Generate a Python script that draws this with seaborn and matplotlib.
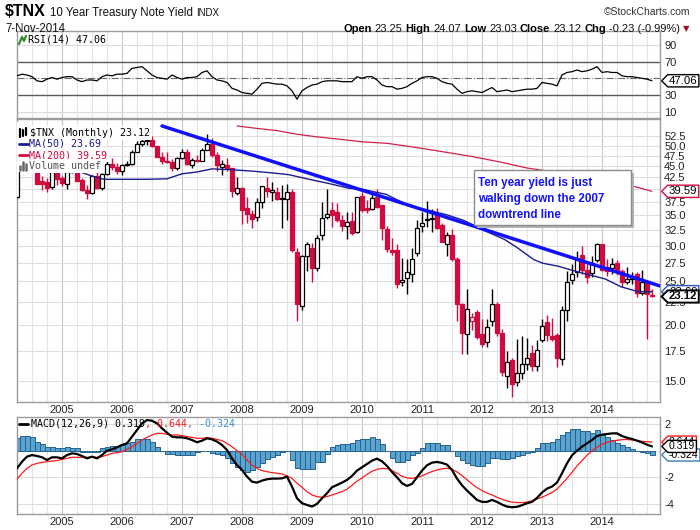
import numpy as np
import pandas as pd
import matplotlib
matplotlib.use("Agg")
import matplotlib.pyplot as plt
import seaborn as sns
from matplotlib.path import Path
from matplotlib.patches import Rectangle
from matplotlib.lines import Line2D
from matplotlib import ticker

# ---------------- data ----------------
start_month = "2004-04"
opens = [38.4, 45.1, 46.5, 45.8, 44.8, 41.8, 41.5, 40.5, 43.5, 42.4, 41.2, 43.6,
         44.8, 42.0, 39.9, 39.2, 42.8, 40.2, 43.3, 45.6, 44.9, 43.9, 45.3, 45.5,
         48.5, 50.5, 51.2, 51.4, 49.9, 47.3, 46.3, 46.1, 44.6, 47.0, 48.3, 45.4,
         46.5, 46.3, 48.9, 50.3, 47.6, 44.8, 45.4, 44.5, 39.3, 40.2, 36.4, 35.3,
         34.8, 37.4, 40.3, 39.4, 39.4, 38.1, 38.0, 39.4, 29.1, 22.0, 28.4, 29.6,
         26.8, 31.7, 34.8, 35.9, 35.6, 34.1, 33.1, 34.0, 32.2, 38.6, 36.4, 36.1,
         38.5, 36.9, 32.7, 29.4, 29.3, 24.9, 25.4, 26.0, 28.9, 33.2, 34.2, 34.3,
         35.1, 33.3, 30.2, 31.6, 28.0, 22.2, 19.1, 20.4, 21.4, 19.1, 18.3, 20.4,
         22.3, 19.2, 15.4, 16.7, 14.9, 15.6, 16.4, 17.3, 16.2, 18.5, 20.3, 18.9,
         19.0, 16.8, 21.6, 25.2, 26.2, 28.6, 26.5, 26.1, 27.8, 30.3, 26.9, 26.7,
         27.4, 26.4, 24.9, 25.3, 25.9, 23.5, 24.9, 23.25]
highs = [45.4, 48.7, 48.9, 46.2, 45.0, 42.9, 42.3, 43.9, 44.3, 42.9, 43.7, 46.4,
         45.6, 42.3, 40.8, 43.0, 44.1, 43.5, 46.4, 46.9, 45.7, 45.6, 46.2, 48.8,
         51.2, 52.0, 52.5, 52.4, 50.0, 48.3, 48.4, 46.6, 47.3, 49.2, 49.1, 46.9,
         47.6, 49.4, 53.2, 52.0, 48.4, 46.5, 47.0, 44.6, 42.7, 40.4, 38.5, 36.0,
         38.2, 40.7, 42.7, 41.6, 40.4, 40.8, 41.1, 40.0, 29.6, 28.6, 30.6, 30.4,
         31.6, 37.5, 40.0, 37.5, 37.2, 35.1, 35.6, 35.6, 38.5, 39.4, 37.9, 39.3,
         40.1, 37.0, 33.2, 31.2, 30.3, 28.1, 28.0, 29.6, 34.2, 35.6, 37.7, 36.1,
         36.3, 33.6, 32.2, 32.7, 28.3, 22.4, 24.0, 21.2, 21.6, 20.6, 20.6, 24.0,
         22.5, 19.6, 17.5, 16.9, 18.6, 18.9, 18.7, 18.0, 18.5, 20.6, 21.0, 20.7,
         19.2, 22.0, 26.3, 27.3, 29.2, 30.0, 27.4, 28.4, 30.4, 30.3, 28.0, 28.1,
         27.9, 26.6, 26.9, 26.2, 26.2, 26.5, 25.0, 24.07]
lows = [38.0, 45.0, 45.6, 43.7, 41.0, 39.9, 39.5, 40.1, 40.8, 40.6, 40.0, 43.4,
        41.7, 39.6, 38.0, 39.0, 40.0, 39.8, 43.0, 44.2, 43.3, 43.0, 45.0, 45.3,
        48.4, 49.9, 50.2, 49.6, 47.1, 45.5, 45.7, 44.0, 44.2, 46.8, 45.2, 44.6,
        46.0, 46.3, 48.8, 47.3, 44.0, 43.0, 44.0, 38.5, 38.9, 33.5, 33.7, 32.8,
        34.0, 36.3, 38.5, 37.6, 37.8, 32.9, 34.1, 29.0, 20.4, 21.6, 26.4, 24.9,
        26.4, 30.8, 34.3, 33.0, 33.9, 32.3, 31.0, 31.7, 32.0, 35.7, 35.5, 35.9,
        36.3, 30.8, 29.1, 28.6, 24.1, 24.4, 23.4, 24.9, 28.4, 32.2, 33.0, 32.1,
        32.6, 30.5, 28.4, 27.7, 20.4, 17.2, 17.2, 19.5, 18.6, 17.9, 17.9, 19.9,
        18.9, 15.4, 14.5, 13.8, 14.6, 15.2, 15.9, 15.8, 15.8, 18.3, 18.4, 18.4,
        16.1, 16.3, 20.4, 24.6, 25.5, 26.0, 24.8, 25.5, 27.6, 26.3, 25.7, 26.0,
        25.8, 24.3, 24.6, 24.7, 23.1, 23.3, 18.6, 23.03]
closes = [45.1, 46.5, 45.8, 44.8, 41.2, 41.1, 40.3, 43.6, 42.2, 41.3, 43.6, 44.8,
          41.8, 39.9, 39.2, 42.8, 40.2, 43.3, 45.6, 44.9, 43.9, 45.3, 45.5, 48.5,
          50.5, 51.2, 51.4, 49.9, 47.3, 46.3, 46.1, 44.6, 47.0, 48.3, 45.6, 46.5,
          46.3, 48.9, 50.3, 47.7, 45.4, 45.5, 44.5, 39.7, 40.3, 36.0, 35.2, 34.4,
          37.4, 40.6, 39.7, 39.8, 38.1, 38.3, 39.4, 29.3, 22.2, 28.5, 30.2, 26.8,
          31.2, 34.6, 35.3, 35.0, 34.1, 33.1, 33.9, 32.0, 38.4, 36.0, 35.9, 38.3,
          36.6, 32.9, 29.5, 29.1, 24.7, 25.1, 26.2, 28.0, 32.9, 33.7, 34.3, 34.6,
          32.9, 30.6, 31.6, 28.0, 22.2, 19.2, 21.7, 20.8, 18.8, 18.1, 19.8, 22.2,
          19.2, 15.7, 16.5, 14.8, 15.6, 16.4, 16.9, 16.2, 17.6, 19.9, 19.0, 18.6,
          16.9, 21.6, 24.9, 26.0, 27.8, 26.5, 25.5, 27.5, 30.3, 26.5, 26.4, 27.3,
          26.4, 24.9, 25.3, 25.6, 23.5, 24.9, 23.4, 23.12]
rsi14 = [53, 55, 54, 52, 47, 46, 49, 51, 49, 51, 52, 52,
         48, 46, 48, 48, 47, 52, 54, 53, 55, 55, 56, 62,
         63, 64, 59, 54, 51, 50, 49, 54, 51, 49, 51, 51,
         52, 57, 59, 52, 48, 47, 45, 38, 36, 33, 32, 31,
         37, 44, 45, 44, 43, 43, 41, 35, 25, 35, 39, 42,
         43, 46, 47, 47, 47, 46, 46, 46, 52, 50, 52, 52,
         48, 42, 40, 40, 37, 38, 40, 44, 47, 51, 52, 52,
         50, 46, 44, 43, 37, 32, 34, 35, 34, 33, 36, 39,
         34, 35, 36, 34, 35, 36, 37, 37, 38, 45, 44, 43,
         41, 54, 57, 58, 60, 58, 59, 61, 64, 57, 58, 57,
         57, 53, 52, 52, 51, 50, 49, 47.06]
macd_line = [-1.33, -0.83, -0.45, -0.33, -0.40, -0.50, -0.70, -0.50, -0.50, -0.58, -0.33, -0.20,
             -0.25, -0.40, -0.58, -0.45, -0.58, -0.33, 0.00, 0.10, 0.25, 0.43, 0.55, 1.05,
             1.55, 2.05, 2.30, 2.25, 2.05, 1.68, 1.35, 1.05, 1.00, 1.00, 0.93, 0.80,
             0.63, 0.75, 0.93, 0.85, 0.68, 0.43, 0.05, -0.58, -1.08, -1.45, -1.95, -2.33,
             -2.40, -2.25, -2.15, -2.10, -2.10, -2.08, -1.95, -2.70, -3.58, -3.95, -4.08, -4.20,
             -4.00, -3.58, -3.20, -2.75, -2.58, -2.40, -2.20, -1.90, -1.50, -1.25, -1.00, -0.75,
             -0.60, -0.80, -1.15, -1.60, -2.00, -2.45, -2.65, -2.50, -2.00, -1.50, -1.10, -0.90,
             -0.85, -0.92, -1.05, -1.45, -2.10, -2.60, -3.00, -3.35, -3.70, -3.85, -3.85, -3.70,
             -3.85, -4.05, -4.20, -4.25, -4.22, -4.10, -3.95, -3.85, -3.55, -3.15, -2.85, -2.70,
             -2.40, -1.70, -0.95, -0.35, 0.00, 0.30, 0.55, 0.80, 1.10, 1.20, 1.25, 1.30,
             1.30, 1.10, 0.97, 0.88, 0.75, 0.62, 0.45, 0.319]
macd_signal = [-2.15, -1.70, -1.33, -1.08, -0.95, -0.88, -0.83, -0.78, -0.75, -0.65, -0.58, -0.50,
               -0.50, -0.50, -0.50, -0.50, -0.50, -0.45, -0.33, -0.20, -0.15, -0.08, 0.10, 0.30,
               0.55, 0.80, 1.00, 1.18, 1.30, 1.30, 1.23, 1.18, 1.18, 1.13, 1.05, 1.00,
               0.93, 0.93, 0.98, 0.93, 0.85, 0.75, 0.55, 0.30, 0.00, -0.25, -0.70, -1.08,
               -1.33, -1.50, -1.58, -1.65, -1.70, -1.75, -1.90, -2.08, -2.45, -2.75, -3.08, -3.33,
               -3.45, -3.50, -3.45, -3.33, -3.20, -3.08, -2.90, -2.60, -2.30, -2.05, -1.78, -1.55,
               -1.40, -1.33, -1.36, -1.50, -1.70, -1.92, -2.05, -2.08, -2.00, -1.90, -1.72, -1.57,
               -1.45, -1.36, -1.33, -1.40, -1.60, -1.87, -2.18, -2.50, -2.78, -3.00, -3.18, -3.33,
               -3.50, -3.65, -3.78, -3.87, -3.90, -3.90, -3.86, -3.76, -3.63, -3.50, -3.33, -3.15,
               -2.88, -2.50, -2.08, -1.63, -1.15, -0.75, -0.35, 0.00, 0.25, 0.48, 0.63, 0.72,
               0.78, 0.83, 0.84, 0.80, 0.77, 0.70, 0.67, 0.644]
macd_hist = [0.93, 1.10, 1.10, 1.00, 0.68, 0.50, 0.30, 0.30, 0.18, 0.18, 0.30, 0.18,
             0.18, -0.08, -0.10, -0.10, -0.08, 0.18, 0.30, 0.35, 0.35, 0.43, 0.55, 0.68,
             0.85, 0.85, 0.85, 0.68, 0.30, 0.00, -0.25, -0.25, -0.33, -0.33, -0.33, -0.33,
             -0.08, 0.00, 0.00, -0.15, -0.25, -0.33, -0.58, -0.95, -1.20, -1.45, -1.58, -1.45,
             -1.20, -0.95, -0.65, -0.45, -0.33, -0.08, 0.00, -0.70, -1.33, -1.40, -1.40, -1.40,
             -0.83, -0.83, -0.25, 0.25, 0.43, 0.48, 0.50, 0.55, 0.80, 0.85, 0.85, 1.00,
             0.85, 0.50, 0.00, -0.58, -0.83, -0.83, -0.70, -0.33, -0.15, 0.18, 0.55, 0.60,
             0.60, 0.43, 0.43, 0.00, -0.40, -0.70, -0.95, -1.08, -1.15, -1.15, -0.90, -0.58,
             -0.58, -0.65, -0.65, -0.58, -0.40, -0.33, -0.15, -0.08, 0.18, 0.55, 0.60, 0.68,
             0.85, 1.18, 1.43, 1.60, 1.60, 1.50, 1.50, 1.35, 1.55, 1.18, 1.00, 0.80,
             0.60, 0.43, 0.25, 0.10, 0.00, -0.08, -0.20, -0.324]
ma50_month = [10, 12.4, 15, 17.4, 22, 26, 30, 33, 36, 39, 43, 47, 51, 54.4, 58.4, 62.4,
              66.4, 69.2, 71.8, 73.8, 75.8, 79, 82, 86, 89.4, 93.4, 97.4, 100, 103.4,
              105.2, 108.2, 112.8, 117.6, 120.8, 124.2, 127]
ma50_value = [44.2, 43.8, 42.8, 42.1, 42.1, 42.1, 42.2, 43.3, 43.7, 44.4, 44.2, 43.9, 43.5,
              43.1, 42.1, 41.2, 40.2, 40.0, 39.4, 39.0, 38.0, 36.6, 36.0, 35.1, 34.1, 32.4,
              31.0, 29.7, 27.9, 27.4, 27.0, 26.1, 25.3, 24.3, 23.7, 23.69]
ma200_month = [44, 48, 52, 56, 60, 65, 69, 74, 79, 82, 86, 91, 97, 102, 105, 110, 115,
               120, 123, 127]
ma200_value = [55.3, 54.6, 54.0, 53.0, 52.3, 51.6, 51.0, 50.6, 49.7, 49.1, 48.3, 47.3, 45.9,
               44.6, 44.1, 43.2, 42.3, 41.3, 40.7, 39.59]
trend_month = [29, 128.6]
trend_value = [55.3, 24.4]
year_labels = ["2005", "2006", "2007", "2008", "2009", "2010", "2011", "2012", "2013", "2014"]
price_ticks = [15.0, 17.5, 20.0, 22.5, 25.0, 27.5, 30.0, 32.5, 35.0, 37.5, 40.0, 42.5,
               45.0, 47.5, 50.0, 52.5]
rsi_ticks = [10, 30, 70, 90]
macd_ticks = [-4, -2, 2]

# ---------------- styling ----------------
sns.set_theme(style="white")
plt.rcParams['font.family'] = ['Liberation Sans', 'DejaVu Sans']

W, H = 700, 530
fig = plt.figure(figsize=(7, 5.3), dpi=100)
fig.patch.set_facecolor("white")

RED = "#d10a3f"
GRID_MIN = "#e4e4e4"
GRID_MAJ = "#c6c6c6"
SPINE = "#9c9c9c"
LEG_FONT = dict(family=["DejaVu Sans Mono"], size=7.2)


def fx(x):
    return x / W


def fy(y):
    return 1 - y / H


def rect(x0, y0, x1, y1):
    return [fx(x0), fy(y1), (x1 - x0) / W, (y1 - y0) / H]


ax_rsi = fig.add_axes(rect(17, 31, 660, 118))
ax = fig.add_axes(rect(17, 119, 660, 402))
ax_macd = fig.add_axes(rect(17, 417, 660, 514))

n = len(closes)
idx = np.arange(n)
periods = pd.period_range(start_month, periods=n, freq="M")
year_pos = [i for i, p in enumerate(periods) if p.month == 1]
XMAX = 128.6


def setup_x(a, labels=True, minor=True):
    a.set_xlim(0, XMAX)
    a.set_xticks(year_pos)
    a.set_xticklabels(year_labels if labels else [])
    if minor:
        a.xaxis.set_minor_locator(ticker.FixedLocator(idx))
    a.tick_params(axis="x", which="major", length=0, pad=2, labelsize=8, colors="#222222")
    a.tick_params(axis="x", which="minor", length=2 if minor else 0, color="#8c8c8c", width=0.6)
    for m in range(0, n + 1, 3):
        a.axvline(m, color=GRID_MAJ if m in year_pos else GRID_MIN, lw=0.8, zorder=0)
    for s in a.spines.values():
        s.set_color(SPINE)
        s.set_linewidth(1.0)
    a.yaxis.tick_right()
    a.tick_params(axis="y", which="both", length=0, pad=3, labelsize=8, colors="#222222")


# ---------------- RSI panel ----------------
setup_x(ax_rsi, labels=False, minor=False)
ax_rsi.set_ylim(2.4, 106.8)
for v in (10, 90):
    ax_rsi.axhline(v, color="#dcdcdc", lw=0.8, zorder=0)
ax_rsi.axhline(70, color="#5a5a5a", lw=1.0, zorder=1)
ax_rsi.axhline(30, color="#5a5a5a", lw=1.0, zorder=1)
ax_rsi.axhline(50, color="#6a6a6a", lw=0.8, ls="-.", zorder=1)
sns.lineplot(x=idx, y=rsi14, ax=ax_rsi, color="black", lw=0.9, zorder=3)
ax_rsi.set_yticks(rsi_ticks)
ax_rsi.set_yticklabels([str(t) for t in rsi_ticks])
ax_rsi.set_xlabel("")
ax_rsi.set_ylabel("")

# ---------------- price panel ----------------
setup_x(ax, labels=True, minor=True)
ax.set_yscale("log")
ax.set_ylim(13.48, 57.3)
ax.yaxis.set_major_locator(ticker.FixedLocator(price_ticks))
ax.yaxis.set_major_formatter(ticker.FixedFormatter(
    ["" if t == 40.0 else f"{t:.1f}" for t in price_ticks]))
ax.yaxis.set_minor_locator(ticker.NullLocator())
for t in price_ticks:
    ax.axhline(t, color="#dedede", lw=0.8, zorder=0)

o = np.array(opens)
h = np.array(highs)
l = np.array(lows)
c = np.array(closes)
prev = np.r_[o[0], c[:-1]]
edge = np.where(c >= prev, "black", RED)
hollow = c > o
face = np.where(hollow, "white", edge)
bot = np.minimum(o, c)
top = np.maximum(o, c)
ax.vlines(idx, l, h, colors=edge, lw=1.0, zorder=2)
ax.bar(idx, top - bot, bottom=bot, width=0.72, color=face, edgecolor=edge,
       linewidth=0.9, zorder=3)

sns.lineplot(x=ma200_month, y=ma200_value, ax=ax, color="#d42049", lw=0.9, zorder=4)
sns.lineplot(x=ma50_month, y=ma50_value, ax=ax, color="#1c1c8c", lw=1.0, zorder=4)
sns.lineplot(x=trend_month, y=trend_value, ax=ax, color="#1010ff", lw=2.5, zorder=5)
ax.set_xlabel("")
ax.set_ylabel("")

# ---------------- MACD panel ----------------
setup_x(ax_macd, labels=True, minor=True)
ax_macd.set_ylim(-4.76, 2.53)
for v in (-4, -2, 0, 2):
    ax_macd.axhline(v, color="#dcdcdc", lw=0.8, zorder=0)
ax_macd.bar(idx, macd_hist, width=1.0, color="#5ba3cf", edgecolor="#25628f",
            linewidth=0.7, zorder=2)
sns.lineplot(x=idx, y=macd_signal, ax=ax_macd, color="#ff1a1a", lw=0.9, zorder=3)
sns.lineplot(x=idx, y=macd_line, ax=ax_macd, color="black", lw=1.6, zorder=4)
ax_macd.set_yticks(macd_ticks)
ax_macd.set_yticklabels([str(t) for t in macd_ticks])
ax_macd.set_xlabel("")
ax_macd.set_ylabel("")


# ---------------- value tags ----------------
def tag_box(x0, y0, width, height, mutation_size):
    pad = 0.22 * mutation_size
    x0 -= pad * 0.5
    y0 -= pad * 0.45
    x1 = x0 + width + pad
    y1 = y0 + height + pad * 0.9
    tip = (y1 - y0) / 2
    return Path([(x0, y0), (x1, y0), (x1, y1), (x0, y1), (x0 - tip, (y0 + y1) / 2), (x0, y0)],
                closed=True)


def tag(a, yval, text, ec, bold=False, lw=1.0, z=6, size=8.2):
    a.text(1.014, yval, text, transform=a.get_yaxis_transform(), ha="left", va="center",
           fontsize=size, color="black", fontweight="bold" if bold else "normal",
           bbox=dict(boxstyle=tag_box, fc="white", ec=ec, lw=lw), zorder=z, clip_on=False)


tag(ax_rsi, rsi14[-1], f"{rsi14[-1]:.2f}", "black")
tag(ax, ma200_value[-1], f"{ma200_value[-1]:.2f}", RED)
tag(ax, ma50_value[-1], f"{ma50_value[-1]:.2f}", "#3050c0", z=6)
tag(ax, closes[-1], f"{closes[-1]:.2f}", "black", bold=True, lw=1.4, z=7)
tag(ax_macd, macd_signal[-1], f"{macd_signal[-1]:.3f}", "#ff1a1a", z=6, size=7.6)
tag(ax_macd, macd_hist[-1], f"{macd_hist[-1]:.3f}", "#3a7fb5", z=7, size=7.6)
tag(ax_macd, macd_line[-1], f"{macd_line[-1]:.3f}", "black", z=8, size=7.6)

# ---------------- texts ----------------
renderer = fig.canvas.get_renderer()


def ftext(x, y, s, **kw):
    kw.setdefault("va", "center")
    return fig.text(fx(x), fy(y), s, **kw)


def seq_left(x, y, pieces, gap=0.0):
    for s, kw in pieces:
        t = ftext(x, y, s, ha="left", **kw)
        x += t.get_window_extent(renderer).width + gap
    return x


def seq_right(x, y, pieces, gap=3.0):
    for s, kw in reversed(pieces):
        t = ftext(x, y, s, ha="right", **kw)
        x -= t.get_window_extent(renderer).width + gap
    return x


# header
xe = seq_left(5, 12, [("$TNX", dict(size=11.5, weight="bold", color="black"))], gap=4)
xe = seq_left(xe, 13, [("10 Year Treasury Note Yield", dict(size=8.3, color="#111111"))], gap=3)
seq_left(xe, 13, [("INDX", dict(size=7.0, color="#111111"))])
ftext(5, 29, "7-Nov-2014", size=8.3, color="#111111")
ftext(690, 12, "\u00a9StockCharts.com", ha="right", size=7.5, color="#333333")
B = dict(size=8.0, weight="bold", color="black")
N = dict(size=8.0, color="#111111")
seq_right(680, 29, [("Open", B), ("23.25", N), ("High", B), ("24.07", N), ("Low", B),
                    ("23.03", N), ("Close", B), ("23.12", N), ("Chg", B),
                    ("-0.23 (-0.99%)", N)], gap=3)
ftext(686, 29, "\u25bc", ha="center", size=6, color="#a01030", family=["DejaVu Sans"])

# RSI legend
fig.add_artist(Line2D([fx(19), fx(22), fx(24), fx(26)], [fy(44), fy(37), fy(41), fy(36)],
                      color="#2e8b2e", lw=1.6, zorder=6))
ftext(28, 40, "RSI(14) 47.06", color="black", zorder=6, **LEG_FONT)

# price legend
wbox = dict(fc="white", ec="none", pad=1.2)
ftext(30, 133, "$TNX (Monthly) 23.12", color="black", bbox=wbox, zorder=5, **LEG_FONT)
ftext(29, 144, "MA(50) 23.69", color="#1c1c8c", bbox=wbox, zorder=5, **LEG_FONT)
ftext(29, 155, "MA(200) 39.59", color=RED, bbox=wbox, zorder=5, **LEG_FONT)
ftext(29, 166, "Volume undef", color="#555555", bbox=wbox, zorder=5, **LEG_FONT)
fig.add_artist(Rectangle((fx(17), fy(172)), 14 / W, 50 / H, transform=fig.transFigure,
                         fc="white", ec="none", zorder=5))
for xx, y0, y1 in [(20, 137, 129), (23, 136, 130), (26, 135, 128)]:
    fig.add_artist(Line2D([fx(xx), fx(xx)], [fy(y0), fy(y1)], color="black", lw=1.6, zorder=6))
fig.add_artist(Line2D([fx(19), fx(28)], [fy(144), fy(144)], color="#1c1c8c", lw=2.0, zorder=6))
fig.add_artist(Line2D([fx(19), fx(28)], [fy(155), fy(155)], color=RED, lw=2.0, zorder=6))
for xx, y0 in [(20, 168), (23, 164), (26, 166)]:
    fig.add_artist(Line2D([fx(xx), fx(xx)], [fy(170), fy(y0 - 2)], color="#666666", lw=1.8,
                          zorder=6))

# MACD legend
fig.add_artist(Line2D([fx(19), fx(28)], [fy(424), fy(424)], color="black", lw=2.0, zorder=6))
seq_left(31, 424, [("MACD(12,26,9) 0.319", dict(color="black", zorder=6, **LEG_FONT)),
                   (", 0.644", dict(color="#ff1a1a", zorder=6, **LEG_FONT)),
                   (", -0.324", dict(color="#3a8fc5", zorder=6, **LEG_FONT))])

# annotation box
fig.add_artist(Rectangle((fx(477), fy(228)), 157 / W, 55 / H, transform=fig.transFigure,
                         fc="#b4b4b4", ec="none", zorder=10))
fig.add_artist(Rectangle((fx(474), fy(225)), 157 / W, 55 / H, transform=fig.transFigure,
                         fc="white", ec="#8a8a8a", lw=1.0, zorder=11))
for yy, s in [(183, "Ten year yield is just"), (199, "walking down the 2007"),
              (215, "downtrend line")]:
    ftext(478, yy, s, ha="left", size=8.4, weight="bold", color="#1414ff", zorder=12)

fig.savefig("out.png", dpi=100, facecolor="white")
